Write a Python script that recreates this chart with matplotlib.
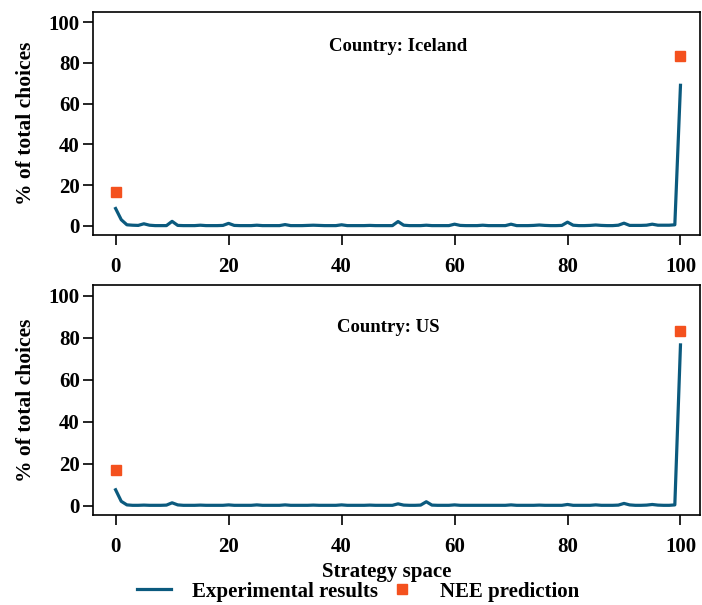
import numpy as np
import matplotlib.pyplot as plt

plt.rcParams['font.family'] = ['Liberation Serif', 'DejaVu Serif']
plt.rcParams['font.weight'] = 'bold'

strategy = np.arange(0, 101)

# % of total choices per strategy
iceland = [8.5, 3.0, 0.5, 0.3, 0.2, 1.0, 0.3, 0.1, 0.1, 0.1,
           2.2, 0.2, 0.1, 0.1, 0.1, 0.3, 0.1, 0.1, 0.1, 0.2,
           1.2, 0.2, 0.1, 0.1, 0.1, 0.3, 0.1, 0.1, 0.1, 0.1,
           0.6, 0.1, 0.1, 0.1, 0.2, 0.3, 0.2, 0.1, 0.1, 0.1,
           0.5, 0.1, 0.1, 0.1, 0.1, 0.2, 0.1, 0.1, 0.1, 0.1,
           2.1, 0.3, 0.1, 0.1, 0.1, 0.3, 0.1, 0.1, 0.1, 0.1,
           0.8, 0.2, 0.1, 0.1, 0.1, 0.3, 0.1, 0.1, 0.1, 0.1,
           0.8, 0.1, 0.1, 0.1, 0.2, 0.4, 0.2, 0.1, 0.1, 0.2,
           1.8, 0.3, 0.1, 0.1, 0.2, 0.4, 0.2, 0.1, 0.1, 0.3,
           1.3, 0.2, 0.2, 0.2, 0.3, 0.8, 0.3, 0.3, 0.3, 0.5,
           69.0]
us = [7.5, 2.0, 0.3, 0.1, 0.1, 0.2, 0.1, 0.1, 0.1, 0.2,
      1.3, 0.3, 0.1, 0.1, 0.1, 0.2, 0.1, 0.1, 0.1, 0.1,
      0.3, 0.1, 0.1, 0.1, 0.1, 0.3, 0.1, 0.1, 0.1, 0.1,
      0.3, 0.1, 0.1, 0.1, 0.1, 0.2, 0.1, 0.1, 0.1, 0.1,
      0.3, 0.1, 0.1, 0.1, 0.1, 0.2, 0.1, 0.1, 0.1, 0.1,
      0.8, 0.2, 0.1, 0.1, 0.2, 1.8, 0.2, 0.1, 0.1, 0.1,
      0.3, 0.1, 0.1, 0.1, 0.1, 0.1, 0.1, 0.1, 0.1, 0.1,
      0.3, 0.1, 0.1, 0.1, 0.1, 0.2, 0.1, 0.1, 0.1, 0.1,
      0.5, 0.1, 0.1, 0.1, 0.1, 0.3, 0.1, 0.1, 0.1, 0.2,
      1.0, 0.3, 0.1, 0.1, 0.2, 0.5, 0.2, 0.1, 0.1, 0.3,
      76.5]

nee_x = [0, 100]
nee_y = [16.7, 83.3]

countries = ["Iceland", "US"]
series = [iceland, us]

line_color = "#0b5a7e"
marker_color = "#f4511e"

fig = plt.figure(figsize=(7.02, 6.05), dpi=100)
positions = [[0.1325, 0.6116, 0.865, 0.3686],
             [0.1325, 0.1488, 0.865, 0.380]]
title_xy = [(0.502, 0.843), (0.486, 0.817)]

for pos, txy, name, values in zip(positions, title_xy, countries, series):
    ax = fig.add_axes(pos)
    ax.plot(strategy, values, color=line_color, lw=2.3, label="Experimental results")
    ax.plot(nee_x, nee_y, ls="none", marker="s", ms=6.5, color=marker_color,
            label="NEE prediction")
    ax.set_xlim(-4, 103.5)
    ax.set_ylim(-4.5, 105)
    ax.set_xticks([0, 20, 40, 60, 80, 100])
    ax.set_yticks([0, 20, 40, 60, 80, 100])
    ax.tick_params(direction="out", length=7.5, width=1.2, labelsize=15)
    ax.tick_params(axis="x", pad=8)
    ax.tick_params(axis="y", pad=2)
    for lab in ax.get_xticklabels() + ax.get_yticklabels():
        lab.set_fontweight("bold")
    for sp in ax.spines.values():
        sp.set_linewidth(1.2)
    ax.set_ylabel("% of total choices", fontsize=15.5, fontweight="bold", labelpad=9)
    ax.text(txy[0], txy[1], f"Country: {name}", transform=ax.transAxes,
            ha="center", va="center", fontsize=13.5, fontweight="bold")

ax.set_xlabel("Strategy space", fontsize=15, fontweight="bold")
ax.xaxis.set_label_coords(0.483, -0.205)
handles, labels = ax.get_legend_handles_labels()
fig.legend(handles, labels, loc="center", bbox_to_anchor=(0.51, 0.022),
           ncol=2, frameon=False, prop={"size": 15, "weight": "bold"},
           handlelength=1.65, handletextpad=1.0, columnspacing=0.3)

fig.savefig("out.png", dpi=100)
